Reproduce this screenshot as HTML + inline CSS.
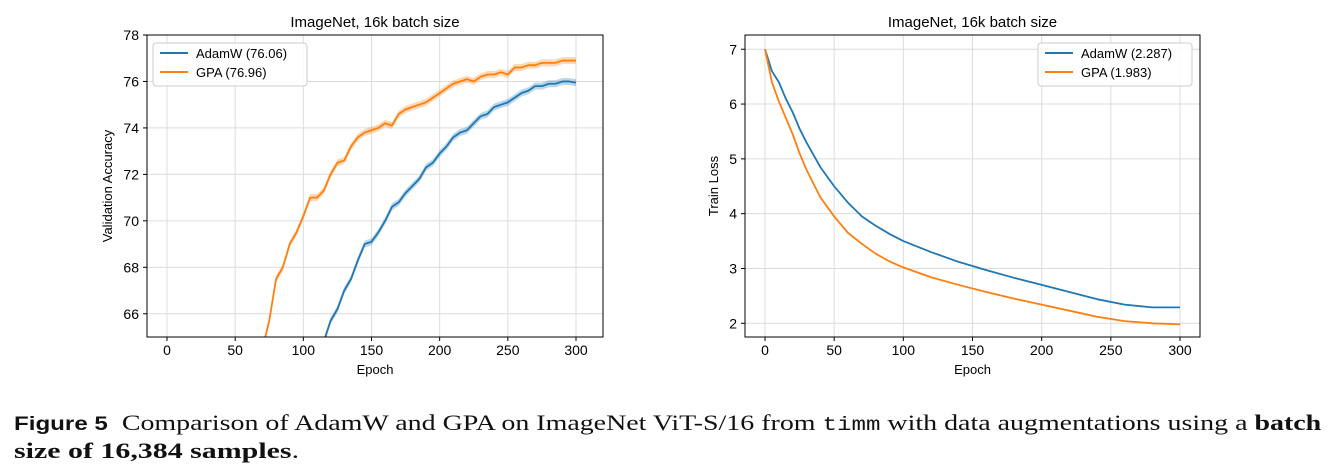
<!DOCTYPE html>
<html><head><meta charset="utf-8"><style>
body{margin:0;width:1335px;height:474px;background:#fff;overflow:hidden;font-family:"Liberation Sans","DejaVu Sans",sans-serif}
svg{position:absolute;left:0;top:0}
.cap{position:absolute;left:14px;font-family:"Liberation Serif",serif;font-size:22px;color:#111;white-space:nowrap;transform-origin:0 50%}
</style></head><body>
<svg id="chart" width="1335" height="400"></svg>
<div class="cap" style="top:410px;transform:scaleX(1.27)"><b style="font-family:'Liberation Sans',sans-serif;font-size:19px">Figure 5</b>&nbsp; Comparison of AdamW and GPA on ImageNet ViT-S/16 from <span style="font-family:'Liberation Mono',monospace;font-size:19px">timm</span> with data augmentations using a <b>batch</b></div>
<div class="cap" style="top:438px;transform:scaleX(1.36)"><b>size of 16,384 samples</b>.</div>
<script>
const accGpaEpochs=[70,75,80,85,90,95,100,105,110,115,120,125,130,135,140,145,150,155,160,165,170,175,180,185,190,195,200,205,210,215,220,225,230,235,240,245,250,255,260,265,270,275,280,285,290,295,300];
const accGpa=[64.5,65.7,67.5,68.0,69.0,69.5,70.2,71.0,71.0,71.3,72.0,72.5,72.6,73.2,73.6,73.8,73.9,74.0,74.2,74.1,74.6,74.8,74.9,75.0,75.1,75.3,75.5,75.7,75.9,76.0,76.1,76.0,76.2,76.3,76.3,76.4,76.3,76.6,76.6,76.7,76.7,76.8,76.8,76.8,76.9,76.9,76.9];
const accAdamEpochs=[115,120,125,130,135,140,145,150,155,160,165,170,175,180,185,190,195,200,205,210,215,220,225,230,235,240,245,250,255,260,265,270,275,280,285,290,295,300];
const accAdam=[64.8,65.7,66.2,67.0,67.5,68.3,69.0,69.1,69.5,70.0,70.6,70.8,71.2,71.5,71.8,72.3,72.5,72.9,73.2,73.6,73.8,73.9,74.2,74.5,74.6,74.9,75.0,75.1,75.3,75.5,75.6,75.8,75.8,75.9,75.9,76.0,76.0,75.95];
const lossEpochs=[0,5,10,15,20,25,30,40,50,60,70,80,90,100,120,140,160,180,200,220,240,260,280,300];
const lossAdam=[7.0,6.6,6.4,6.1,5.85,5.55,5.3,4.85,4.5,4.2,3.95,3.78,3.63,3.5,3.3,3.12,2.97,2.83,2.7,2.57,2.44,2.34,2.29,2.29];
const lossGpa=[7.0,6.4,6.05,5.75,5.45,5.1,4.8,4.3,3.95,3.65,3.45,3.27,3.13,3.02,2.84,2.7,2.57,2.45,2.34,2.23,2.12,2.04,2.0,1.98];
const xTicks=[0,50,100,150,200,250,300];
const accTicks=[66,68,70,72,74,76,78];
const lossTicks=[2,3,4,5,6,7];
const NS="http://www.w3.org/2000/svg";
const svg=document.getElementById('chart');
function mk(t,a,p){const e=document.createElementNS(NS,t);for(const k in a)e.setAttribute(k,a[k]);(p||svg).appendChild(e);return e;}
function panel(o){
  const g=mk('g',{});
  
  
  const X=v=>o.x0+(v-0)/300*(o.x300-o.x0);
  const Y=v=>o.top+(o.ymax-v)/(o.ymax-o.ymin)*(o.bot-o.top);
  const clipId=o.name+'-clip';
  const cp=mk('clipPath',{id:clipId},g);mk('rect',{x:o.L,y:o.top,width:o.R-o.L,height:o.bot-o.top},cp);
  xTicks.forEach(t=>{mk('line',{x1:X(t),x2:X(t),y1:o.top,y2:o.bot,stroke:'#dcdcdc','stroke-width':1},g);
    mk('line',{x1:X(t),x2:X(t),y1:o.bot,y2:o.bot+4,stroke:'#000'},g);
    const tx=mk('text',{x:X(t),y:o.bot+18,'text-anchor':'middle','font-size':14},g);tx.textContent=t;
    });
  o.yt.forEach(t=>{mk('line',{x1:o.L,x2:o.R,y1:Y(t),y2:Y(t),stroke:'#dcdcdc'},g);
    mk('line',{x1:o.L-4,x2:o.L,y1:Y(t),y2:Y(t),stroke:'#000'},g);
    const tx=mk('text',{x:o.L-8,y:Y(t)+5,'text-anchor':'end','font-size':14},g);tx.textContent=t;
    });
  const gc=mk('g',{'clip-path':'url(#'+clipId+')'},g);
  o.series.forEach(s=>{
    if(s.band){const up=s.xs.map((e,i)=>X(e)+','+Y(s.ys[i]+s.band)).join(' ');
      const dn=s.xs.map((e,i)=>X(e)+','+Y(s.ys[i]-s.band)).reverse().join(' ');
      const b=mk('polygon',{points:up+' '+dn,fill:s.c,'fill-opacity':0.3},gc);
      }
    const l=mk('polyline',{points:s.xs.map((e,i)=>X(e)+','+Y(s.ys[i])).join(' '),fill:'none',stroke:s.c,'stroke-width':1.8,'stroke-linejoin':'round'},gc);
    
  });
  mk('rect',{x:o.L,y:o.top,width:o.R-o.L,height:o.bot-o.top,fill:'none',stroke:'#000','stroke-width':1},g);
  const ti=mk('text',{x:(o.L+o.R)/2,y:o.top-8,'text-anchor':'middle','font-size':15},g);ti.textContent='ImageNet, 16k batch size';
  
  const xl=mk('text',{x:(o.L+o.R)/2,y:o.bot+37,'text-anchor':'middle','font-size':13},g);xl.textContent='Epoch';
  
  const cy=(o.top+o.bot)/2;
  const yl=mk('text',{x:o.ylx,y:cy,'text-anchor':'middle','font-size':13,transform:`rotate(-90 ${o.ylx} ${cy})`},g);yl.textContent=o.ylab;
  
  const lg=mk('g',{},g);
  mk('rect',{x:o.lgx,y:43,width:154,height:43,rx:3,fill:'#fff','fill-opacity':0.85,stroke:'#ccc'},lg);
  o.series.forEach((s,i)=>{const yy=53+i*19;
    mk('line',{x1:o.lgx+7,x2:o.lgx+35,y1:yy,y2:yy,stroke:s.c,'stroke-width':2},lg);
    const t=mk('text',{x:o.lgx+43,y:yy+5,'font-size':13},lg);t.textContent=s.label;
    });
}
panel({name:'accuracy-chart',L:147,R:603,top:35,bot:337,x0:167,x300:576,ymin:65,ymax:78,yt:accTicks,ylab:'Validation Accuracy',ylx:112,lgx:153,
  series:[{name:'adamw',label:'AdamW (76.06)',c:'#1f77b4',xs:accAdamEpochs,ys:accAdam,band:0.15},
          {name:'gpa',label:'GPA (76.96)',c:'#ff7f0e',xs:accGpaEpochs,ys:accGpa,band:0.15}]});
panel({name:'loss-chart',L:745,R:1200,top:35,bot:337,x0:765,x300:1180,ymin:1.75,ymax:7.26,yt:lossTicks,ylab:'Train Loss',ylx:718,lgx:1038,
  series:[{name:'adamw',label:'AdamW (2.287)',c:'#1f77b4',xs:lossEpochs,ys:lossAdam},
          {name:'gpa',label:'GPA (1.983)',c:'#ff7f0e',xs:lossEpochs,ys:lossGpa}]});
</script>
</body></html>
